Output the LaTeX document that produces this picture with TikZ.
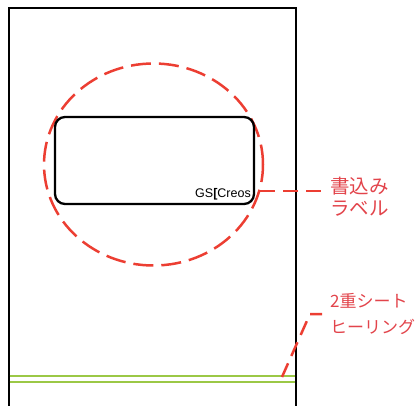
\documentclass[tikz,border=0pt]{standalone}
\usepackage{fontspec}
\setmainfont{Liberation Sans}
\newfontfamily\jpfont{Noto Sans CJK JP}
\usetikzlibrary{shapes.geometric}
\definecolor{leadred}{RGB}{236,62,50}
\definecolor{textred}{RGB}{226,68,75}
\definecolor{sealgreen}{RGB}{155,200,70}
\begin{document}
\begin{tikzpicture}[x=1pt,y=-1pt,
    zone/.style={draw=leadred,line width=2.5pt,dash pattern=on 20pt off 8pt,
      ellipse,inner sep=0pt,minimum width=219pt,minimum height=202pt},
    labelbox/.style={draw,line width=2.3pt,rounded corners=10pt,inner sep=0pt,
      minimum width=199pt,minimum height=87pt},
    leader/.style={draw=leadred,line width=2.5pt,dash pattern=on 15pt off 8pt},
    callout/.style={text=textred,align=left,anchor=west,inner ysep=0pt,inner xsep=8pt}]
  \useasboundingbox (0,0) rectangle (417,406);
  \draw[line width=2pt] (8.5,406) -- (8.5,8.5) -- (295.5,8.5) -- (295.5,406);
  \node[zone] (circle) at (153.5,164.5) {};
  \node[labelbox] (label) at (154.5,160.5) {};
  \node[anchor=base east,inner sep=0pt,font=\fontsize{12.5}{14}\selectfont]
    (brand) at (251,197) {GS{\bfseries[}Creos};
  \draw[sealgreen,line width=2pt] (9.5,376) -- (295,376);
  \draw[sealgreen,line width=2pt] (9.5,382) -- (295,382);
  \node[callout,font=\jpfont\fontsize{19.5}{22}\selectfont] (write) at (322,197)
    {書込み\\ラベル};
  \node[callout,font=\jpfont\fontsize{17}{26}\selectfont] (seal) at (322,314)
    {2重シート\\ヒーリング};
  \coordinate (sealend) at (282,377);
  \coordinate (kink) at (310,314);
  \draw[leader] (circle.-14.6) -- (circle.-14.6 -| write.west);
  \draw[leader] (sealend) -- (kink) -- (seal.west);
\end{tikzpicture}
\end{document}
